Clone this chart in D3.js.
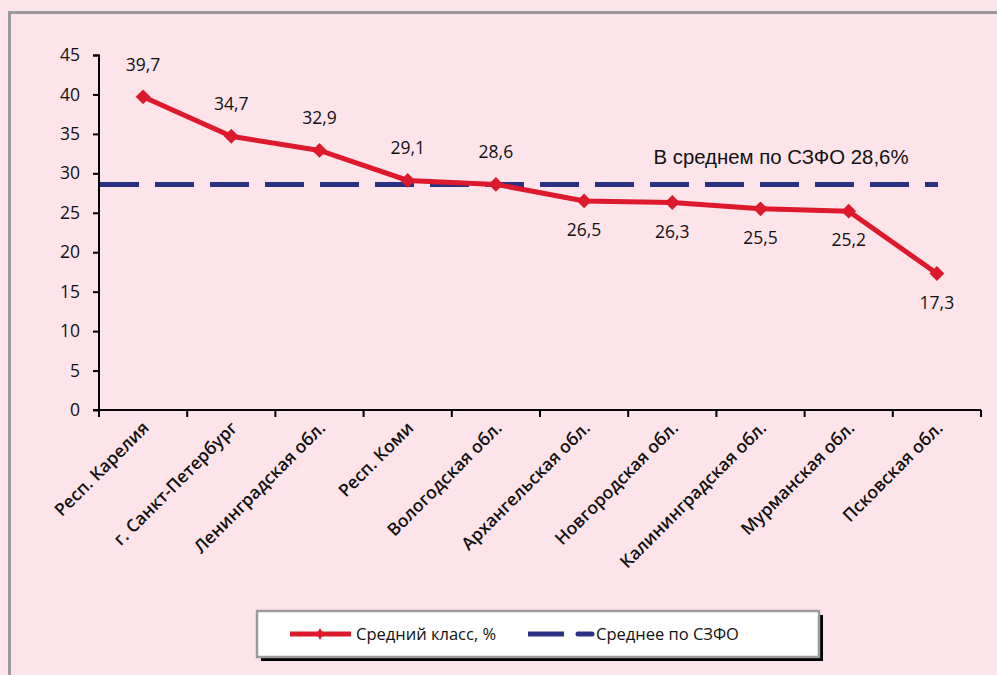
<!DOCTYPE html>
<html><head><meta charset="utf-8">
<script src="https://cdn.jsdelivr.net/npm/d3@7"></script>
<style>body{margin:0;background:#fde4ea;} svg{display:block;}</style>
</head><body>
<svg id="c" width="997" height="675"></svg>
<script>
const categories = ["Респ. Карелия","г. Санкт-Петербург","Ленинградская обл.","Респ. Коми","Вологодская обл.","Архангельская обл.","Новгородская обл.","Калининградская обл.","Мурманская обл.","Псковская обл."];
const values = [39.7,34.7,32.9,29.1,28.6,26.5,26.3,25.5,25.2,17.3];
const valueLabels = ["39,7","34,7","32,9","29,1","28,6","26,5","26,3","25,5","25,2","17,3"];
const average = 28.6;
const yTicks = [0,5,10,15,20,25,30,35,40,45];
const seriesNames = ["Средний класс, %","Среднее по СЗФО"];
const annotation = "В среднем по СЗФО 28,6%";

const svg = d3.select("#c");
const font = "'Open Sans', sans-serif";
svg.append("rect").attr("width",997).attr("height",675).attr("fill","#fde4ea");
svg.append("rect").attr("x",9.5).attr("y",12.5).attr("width",1100).attr("height",800)
  .attr("fill","none").attr("stroke","#9e9a9b").attr("stroke-width",3);

const x = d3.scaleBand().domain(categories).range([99,981]);
const y = d3.scaleLinear().domain([0,45]).range([410,55]);

// y axis
const ya = svg.append("g").attr("transform","translate(99,0)")
  .call(d3.axisLeft(y).tickValues(yTicks).tickSize(6).tickPadding(13));
ya.select(".domain").attr("stroke","#000").attr("stroke-width",2).attr("d","M-6,55.5H0V410");
ya.selectAll(".tick line").attr("stroke","#000").attr("stroke-width",2);
ya.selectAll("text").attr("font-family",font).attr("font-size",17.5).attr("fill","#111");

// x axis
const xa = svg.append("g").attr("transform","translate(0,410)")
  .call(d3.axisBottom(x).tickSize(0).tickFormat(""));
xa.select(".domain").attr("stroke","#000").attr("stroke-width",2).attr("d","M93,0H981");
const bounds = [...categories.map(c=>x(c)), 981];
svg.append("g").selectAll("line").data(bounds).join("line")
  .attr("x1",d=>d).attr("x2",d=>d).attr("y1",410).attr("y2",417)
  .attr("stroke","#000").attr("stroke-width",2);
svg.append("g").selectAll("text").data(categories).join("text")
  .attr("transform",d=>`translate(${x(d)+x.bandwidth()/2+7},${429}) rotate(-45)`)
  .attr("text-anchor","end").attr("font-family",font).attr("font-size",17.5).attr("font-weight",600)
  .attr("fill","#111").text(d=>d);

// average dashed line
svg.append("line").attr("x1",100).attr("x2",938).attr("y1",y(average)).attr("y2",y(average))
  .attr("stroke","#2b3182").attr("stroke-width",5).attr("stroke-dasharray","39,16");

// red line
const cx = i=>x(categories[i])+x.bandwidth()/2;
svg.append("path").datum(values)
  .attr("d",d3.line().x((d,i)=>cx(i)).y(d=>y(d)))
  .attr("fill","none").attr("stroke","#dc1a2c").attr("stroke-width",5);
svg.append("g").selectAll("path").data(values).join("path")
  .attr("d",d3.symbol(d3.symbolDiamond2 || d3.symbolDiamond, 140))
  .attr("transform",(d,i)=>`translate(${cx(i)},${y(d)})`)
  .attr("fill","#dc1a2c");

// value labels
svg.append("g").selectAll("text").data(values).join("text")
  .attr("x",(d,i)=>cx(i)).attr("y",(d,i)=> i<5 ? y(d)-26 : y(d)+35)
  .attr("text-anchor","middle").attr("font-family",font).attr("font-size",17.5).attr("fill","#111")
  .text((d,i)=>valueLabels[i]);

// annotation
svg.append("text").attr("x",781).attr("y",164).attr("text-anchor","middle")
  .attr("font-family","'Liberation Sans', Arial, sans-serif").attr("font-size",20).attr("fill","#111")
  .attr("textLength",255).attr("lengthAdjust","spacingAndGlyphs")
  .text(annotation);

// legend
const lg = svg.append("g");
lg.append("rect").attr("x",261).attr("y",615).attr("width",562).attr("height",46).attr("fill","#000");
lg.append("rect").attr("x",257).attr("y",611).attr("width",562).attr("height",46)
  .attr("fill","#fff").attr("stroke","#9e9a9b").attr("stroke-width",2.5);
lg.append("line").attr("x1",290).attr("x2",351).attr("y1",634).attr("y2",634)
  .attr("stroke","#dc1a2c").attr("stroke-width",5);
lg.append("path").attr("d",d3.symbol(d3.symbolDiamond,40)).attr("transform","translate(320,634)").attr("fill","#dc1a2c");
lg.append("text").attr("x",356).attr("y",640).attr("font-family",font).attr("font-size",16.5).attr("fill","#111").text(seriesNames[0]);
lg.append("line").attr("x1",528).attr("x2",564).attr("y1",634).attr("y2",634)
  .attr("stroke","#2b3182").attr("stroke-width",5);
lg.append("line").attr("x1",578).attr("x2",592).attr("y1",634).attr("y2",634)
  .attr("stroke","#2b3182").attr("stroke-width",5).attr("stroke-linecap","round");
lg.append("text").attr("x",596).attr("y",640).attr("font-family",font).attr("font-size",16.5).attr("fill","#111").text(seriesNames[1]);
</script>
</body></html>
